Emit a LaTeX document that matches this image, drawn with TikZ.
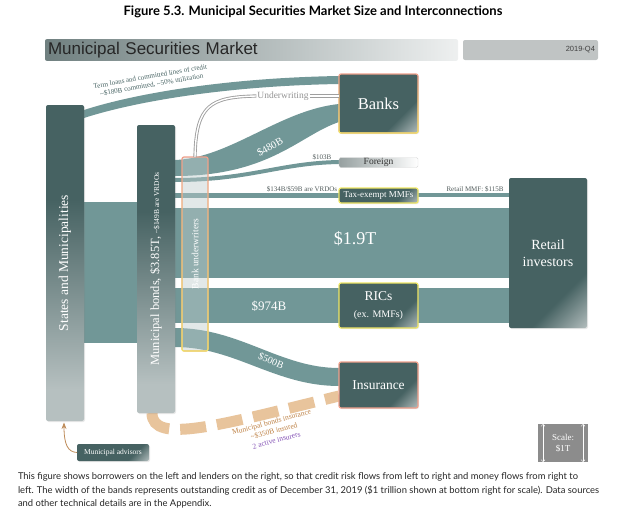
\documentclass[tikz,border=0pt]{standalone}
\usepackage{fontspec}
\setmainfont{Liberation Serif}
\newfontfamily\capfont{Lato}
\newfontfamily\hdrfont{Liberation Sans}
\usetikzlibrary{arrows.meta,shadows,fadings,backgrounds}

\definecolor{boxdark}{RGB}{70,98,98}
\definecolor{boxlight}{RGB}{182,192,192}
\definecolor{bandteal}{RGB}{113,151,151}
\definecolor{edgeyellow}{RGB}{238,230,100}
\definecolor{edgepink}{RGB}{240,160,140}
\definecolor{instan}{RGB}{232,196,156}
\definecolor{instext}{RGB}{190,130,70}
\definecolor{inspurple}{RGB}{130,80,180}
\definecolor{advtan}{RGB}{190,140,90}
\definecolor{labelgray}{RGB}{80,90,90}
\definecolor{uwfill}{RGB}{190,205,205}
\definecolor{foreigngray}{RGB}{150,160,160}
\definecolor{scalegray}{RGB}{140,140,140}
\definecolor{hdrdark}{RGB}{112,128,128}
\definecolor{hdrmid}{RGB}{205,212,212}
\definecolor{hdrlight}{RGB}{238,240,240}
\definecolor{datebar}{RGB}{192,196,196}

\pgfdeclarehorizontalshading{sheen}{100bp}{color(0bp)=(boxdark); color(68bp)=(boxdark); color(86bp)=(boxlight); color(100bp)=(boxlight)}
\pgfdeclareverticalshading{tallfade}{100bp}{color(0bp)=(boxlight); color(30bp)=(boxlight); color(60bp)=(boxdark); color(100bp)=(boxdark)}

\begin{document}
\begin{tikzpicture}[
        x=1pt, y=-1pt,
        >=Stealth,
        every node/.style={inner sep=1pt, outer sep=0pt},
        band/.style={fill=bandteal},
        box/.style={rounded corners=2pt, shading=sheen, shading angle=-45, text=white,
            drop shadow={shadow xshift=1pt, shadow yshift=-1pt, opacity=.18}},
        tallbox/.style={rounded corners=2pt, shading=tallfade, text=white,
            drop shadow={shadow xshift=1pt, shadow yshift=-1pt, opacity=.18}},
        ylw/.style={draw=edgeyellow, line width=1.2pt},
        pnk/.style={draw=edgepink, line width=1.2pt},
        bandlab/.style={text=white},
        small/.style={font=\fontsize{7}{8.5}\selectfont, text=labelgray},
        uwline/.style={draw=gray!75, double=white, double distance=1.4pt, line width=.9pt},
        insdash/.style={draw=instan, line width=11pt, dash pattern=on 26pt off 11pt},
        advarrow/.style={->, draw=advtan, line width=.8pt, shorten >=1.5pt},
        scalearrow/.style={{Straight Barb[length=2pt]}-{Straight Barb[length=2pt]}, draw=white, line width=.5pt}
    ]
    \useasboundingbox (0,0) rectangle (619,522);

    \node[font=\capfont\bfseries\fontsize{13}{14}\selectfont] (title) at (313,12) {Figure 5.3. Municipal Securities Market Size and Interconnections};
    \node[rounded corners=2pt, left color=hdrdark, middle color=hdrmid, right color=hdrlight,
        minimum width=413, minimum height=20, text width=407, inner sep=3pt, align=left,
        font=\hdrfont\fontsize{17}{18}\selectfont, text=black!85] (hdr) at (251.5,50) {Municipal Securities Market};
    \node[rounded corners=2pt, fill=datebar, minimum width=135, minimum height=20, text width=129,
        inner sep=3pt, align=right, font=\hdrfont\fontsize{7.5}{8}\selectfont, text=black!75] (date) at (530.5,50) {2019-Q4};

    % borrowers
    \node[tallbox, minimum width=38, minimum height=316, font=\fontsize{13.5}{14}\selectfont] (states) at (65,263)
        {\rotatebox{90}{States and Municipalities}};
    \node[tallbox, minimum width=38, minimum height=288, font=\fontsize{12.5}{13}\selectfont] (muni) at (156,269)
        {\rotatebox{90}{Municipal bonds, \$3.85T, {\fontsize{7.5}{8}\selectfont\textasciitilde\$149B are VRDOs}}};
    \node[box, minimum width=72, minimum height=17, font=\fontsize{7.5}{8}\selectfont] (advisors) at (113,452.5) {Municipal advisors};

    % lenders
    \node[box, pnk, minimum width=79, minimum height=59, font=\fontsize{16.5}{18}\selectfont] (banks) at (378.5,103.5) {Banks};
    \draw[ylw, rounded corners=2pt, path fading=north] (banks.south west) rectangle (banks.north east);
    \node[rounded corners=1.5pt, left color=foreigngray, right color=white, draw=white!85!black, line width=.4pt,
        minimum width=79, minimum height=10, inner sep=0pt, font=\fontsize{9.5}{10}\selectfont, text=black!80] (foreign) at (378.5,162.5) {Foreign};
    \node[box, ylw, minimum width=79, minimum height=15, inner sep=0pt, font=\fontsize{9}{10}\selectfont] (mmf) at (378.5,195.5) {Tax-exempt MMFs};
    \node[box, ylw, minimum width=79, minimum height=45, align=center, font=\fontsize{13.5}{16}\selectfont] (rics) at (378.5,305.5)
        {RICs\\[1pt]{\fontsize{10}{12}\selectfont (ex. MMFs)}};
    \node[box, pnk, minimum width=79, minimum height=46, font=\fontsize{13.5}{15}\selectfont] (insurance) at (378.5,385) {Insurance};
    \node[box, minimum width=78, minimum height=150, align=center, font=\fontsize{14}{17}\selectfont] (retail) at (548,253) {Retail\\investors};

    \node[rounded corners=2pt, fill=uwfill, fill opacity=.45, text opacity=1, text=white, draw=edgepink, line width=1.2pt,
        minimum width=26, minimum height=194, font=\fontsize{9.5}{10}\selectfont] (uw) at (195,254) {\rotatebox{90}{Bank underwriters}};
    \draw[ylw, rounded corners=2pt, path fading=north] (uw.south west) rectangle (uw.north east);

    \begin{scope}[on background layer]
        \fill[band] (states.east |- 0,110) .. controls (130,95) and (220,78) .. (banks.west |- 0,76)
            -- (banks.west |- 0,84) .. controls (220,86) and (130,103) .. (states.east |- 0,118) -- cycle;
        \fill[band] (states.east |- 0,202) rectangle (muni.west |- 0,343);
        \fill[band] (muni.east |- 0,160) .. controls (230,158) and (280,110) .. (banks.west |- 0,104)
            -- (banks.west |- 0,122) .. controls (300,135) and (270,176) .. (muni.east |- 0,176) -- cycle;
        \fill[band] (muni.east |- 0,178) .. controls (250,178) and (280,161) .. (foreign.west |- 0,160)
            -- (foreign.west |- 0,164) .. controls (280,165) and (250,182) .. (muni.east |- 0,182) -- cycle;
        \fill[band] (muni.east |- 0,192.5) rectangle (mmf.west |- 0,197.5);
        \fill[band] (mmf.east |- 0,193) rectangle (retail.west |- 0,197);
        \fill[band] (muni.east |- 0,208) rectangle (retail.west |- 0,278);
        \fill[band] (muni.east |- 0,288) rectangle (retail.west |- 0,323);
        \fill[band] (muni.east |- 0,328) .. controls (240,328) and (280,368) .. (insurance.west |- 0,368)
            -- (insurance.west |- 0,386) .. controls (275,386) and (235,347) .. (muni.east |- 0,347) -- cycle;
        \draw[insdash] (muni.south -| 152,0) .. controls (152,445) and (220,425) .. (insurance.west |- 0,396);
    \end{scope}

    \node[font=\fontsize{9.5}{10}\selectfont, text=gray!85] (uwtext) at (283,96) {Underwriting};
    \draw[uwline] (uw.north) .. controls (196,105) and (210,97) .. (uwtext.west);
    \draw[uwline] (uwtext.east) -- (banks.west |- uwtext.east);

    \draw[advarrow] (advisors.west) .. controls (68,452) and (64,445) .. (states.south -| 64,0);

    % band labels
    \node[bandlab, font=\fontsize{18}{18}\selectfont] (l19t) at (355,239) {\$1.9T};
    \node[bandlab, font=\fontsize{13}{13}\selectfont] (l974b) at (269,306) {\$974B};
    \node[bandlab, rotate=30, font=\fontsize{10.5}{11}\selectfont] (l480b) at (270,147) {\$480B};
    \node[bandlab, rotate=-24, font=\fontsize{10}{11}\selectfont] (l500b) at (271,361) {\$500B};
    \node[small] (l103b) at (322,157) {\$103B};
    \node[small] (lvrdo) at (302,189) {\$134B/\$59B are VRDOs};
    \node[small] (lretmmf) at (475,189) {Retail MMF: \$115B};
    \node[small, rotate=10, align=center, text=boxdark] (lterm) at (151,81)
        {Term loans and committed lines of credit\\\textasciitilde\$180B committed, \textasciitilde50\% utilization};
    \node[small, rotate=15, align=center, text=instext, font=\fontsize{7.5}{9.5}\selectfont] (lins) at (274,431)
        {Municipal bonds insurance\\\textasciitilde\$350B insured\\\textcolor{inspurple}{2 active insurers}};

    % scale
    \node[fill=scalegray, minimum width=50, minimum height=38, align=center, text=white,
        font=\fontsize{9}{11}\selectfont] (scale) at (563,443) {Scale:\\\$1T};
    \draw[scalearrow] ([xshift=5pt]scale.north west) -- ([xshift=5pt]scale.south west);
    \draw[scalearrow] ([xshift=-5pt]scale.north east) -- ([xshift=-5pt]scale.south east);

    \node[anchor=north west, align=left, font=\capfont\fontsize{9.4}{13.5}\selectfont, text=black!85] (caption) at (17,472)
        {This figure shows borrowers on the left and lenders on the right, so that credit risk flows from left to right and money flows from right to\\
         left. The width of the bands represents outstanding credit as of December 31, 2019 (\$1 trillion shown at bottom right for scale). Data sources\\
         and other technical details are in the Appendix.};
\end{tikzpicture}
\end{document}
